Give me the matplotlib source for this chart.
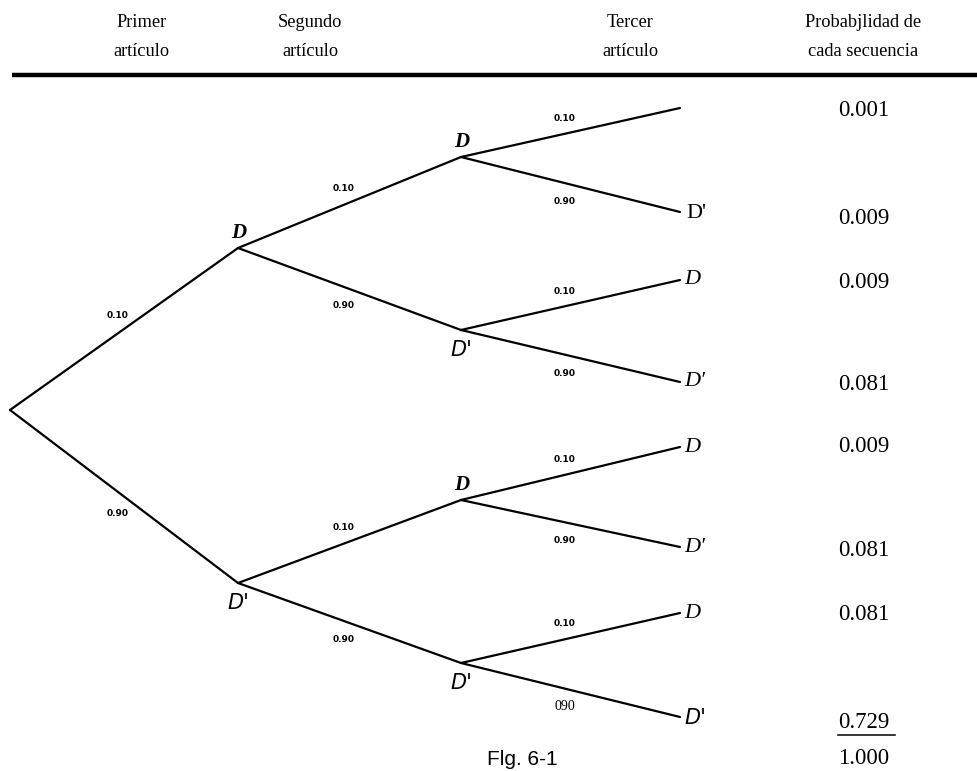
"""Tree diagram: three articles, defective (D) / non-defective (D')."""

import matplotlib

matplotlib.use("Agg")
import matplotlib.pyplot as plt  # noqa: E402

# column headers
headers = ["Primer\nartículo", "Segundo\nartículo", "Tercer\nartículo",
           "Probabjlidad de\ncada secuencia"]

# node positions of the tree, level by level (pixel-like units)
level_x = [10, 238, 461, 680]
level_y = [
    [410],
    [248, 583],
    [157, 330, 500, 663],
    [108, 212, 280, 382, 447, 547, 613, 717],
]

# labels of the inner nodes and of the leaves
inner_labels = [["D", "D'"], ["D", "D'", "D", "D'"]]
leaf_labels = ["", "D'", "D", "D′", "D", "D′", "D", "D'"]

# branch probabilities, one list per level (upper child first)
branch_probs = [
    ["0.10", "0.90"],
    ["0.10", "0.90", "0.10", "0.90"],
    ["0.10", "0.90", "0.10", "0.90", "0.10", "0.90", "0.10", "090"],
]

# probability of each sequence
seq_probs = ["0.001", "0.009", "0.009", "0.081", "0.009", "0.081", "0.081", "0.729"]
seq_total = "1.000"

W, H = 977, 771
fig = plt.figure(figsize=(W / 100, H / 100), dpi=100)
ax = fig.add_axes([0, 0, 1, 1])
ax.set_xlim(0, W)
ax.set_ylim(H, 0)
ax.axis("off")

serif = ["Liberation Serif", "DejaVu Serif"]

# header
head_x = [141, 310, 630, 863]
for hx, txt in zip(head_x, headers):
    ax.text(hx, 37, txt, ha="center", va="center", fontsize=13.2,
            family=serif, linespacing=1.85)
ax.plot([12, W], [75, 75], color="black", lw=3.2, solid_capstyle="butt")

# branches
for lvl in range(3):
    x0, x1 = level_x[lvl], level_x[lvl + 1]
    for i, y0 in enumerate(level_y[lvl]):
        for k in range(2):
            j = 2 * i + k
            y1 = level_y[lvl + 1][j]
            ax.plot([x0, x1], [y0, y1], color="black", lw=1.6,
                    solid_capstyle="round")
            mx, my = (x0 + x1) / 2 - 6, (y0 + y1) / 2
            my += -14 if k == 0 else 17
            if branch_probs[lvl][j] == "090":
                ax.text(mx, my, branch_probs[lvl][j], ha="center",
                        va="center", fontsize=10, family=serif)
            else:
                ax.text(mx, my, branch_probs[lvl][j], ha="center",
                        va="center", fontsize=6.5, fontweight="bold",
                        family="DejaVu Sans")

# inner node labels
for lvl, labs in enumerate(inner_labels, start=1):
    for i, lab in enumerate(labs):
        y = level_y[lvl][i]
        if lab == "D":
            ax.text(level_x[lvl] + 1, y - 15, lab, ha="center", va="center",
                    fontsize=15, style="italic", fontweight="bold",
                    family=serif)
        else:
            ax.text(level_x[lvl], y + 20, lab, ha="center", va="center",
                    fontsize=15, style="italic", family="DejaVu Sans")

# leaf labels
for i, lab in enumerate(leaf_labels):
    y = level_y[3][i]
    if not lab:
        continue
    if lab == "D'" and i == 1:
        ax.text(level_x[3] + 6, y + 1, lab, ha="left", va="center",
                fontsize=16, family=serif)
    elif lab == "D'":
        ax.text(level_x[3] + 4, y + 1, lab, ha="left", va="center",
                fontsize=15, style="italic", family="DejaVu Sans")
    else:
        ax.text(level_x[3] + 4, y, lab, ha="left", va="center",
                fontsize=16, style="italic", family=serif)

# sequence probabilities
prob_y = [110, 218, 282, 385, 447, 550, 615, 723]
for py, p in zip(prob_y, seq_probs):
    ax.text(864, py, p, ha="center", va="center", fontsize=16.5,
            family=serif)
ax.plot([838, 895], [735, 735], color="black", lw=1.1)
ax.text(864, 758, seq_total, ha="center", va="center", fontsize=16.5,
        family=serif)

ax.text(522, 769, "Flg. 6-1", ha="center", va="bottom", fontsize=15,
        family="Liberation Sans")

fig.savefig("out.png", dpi=100)
plt.close(fig)
